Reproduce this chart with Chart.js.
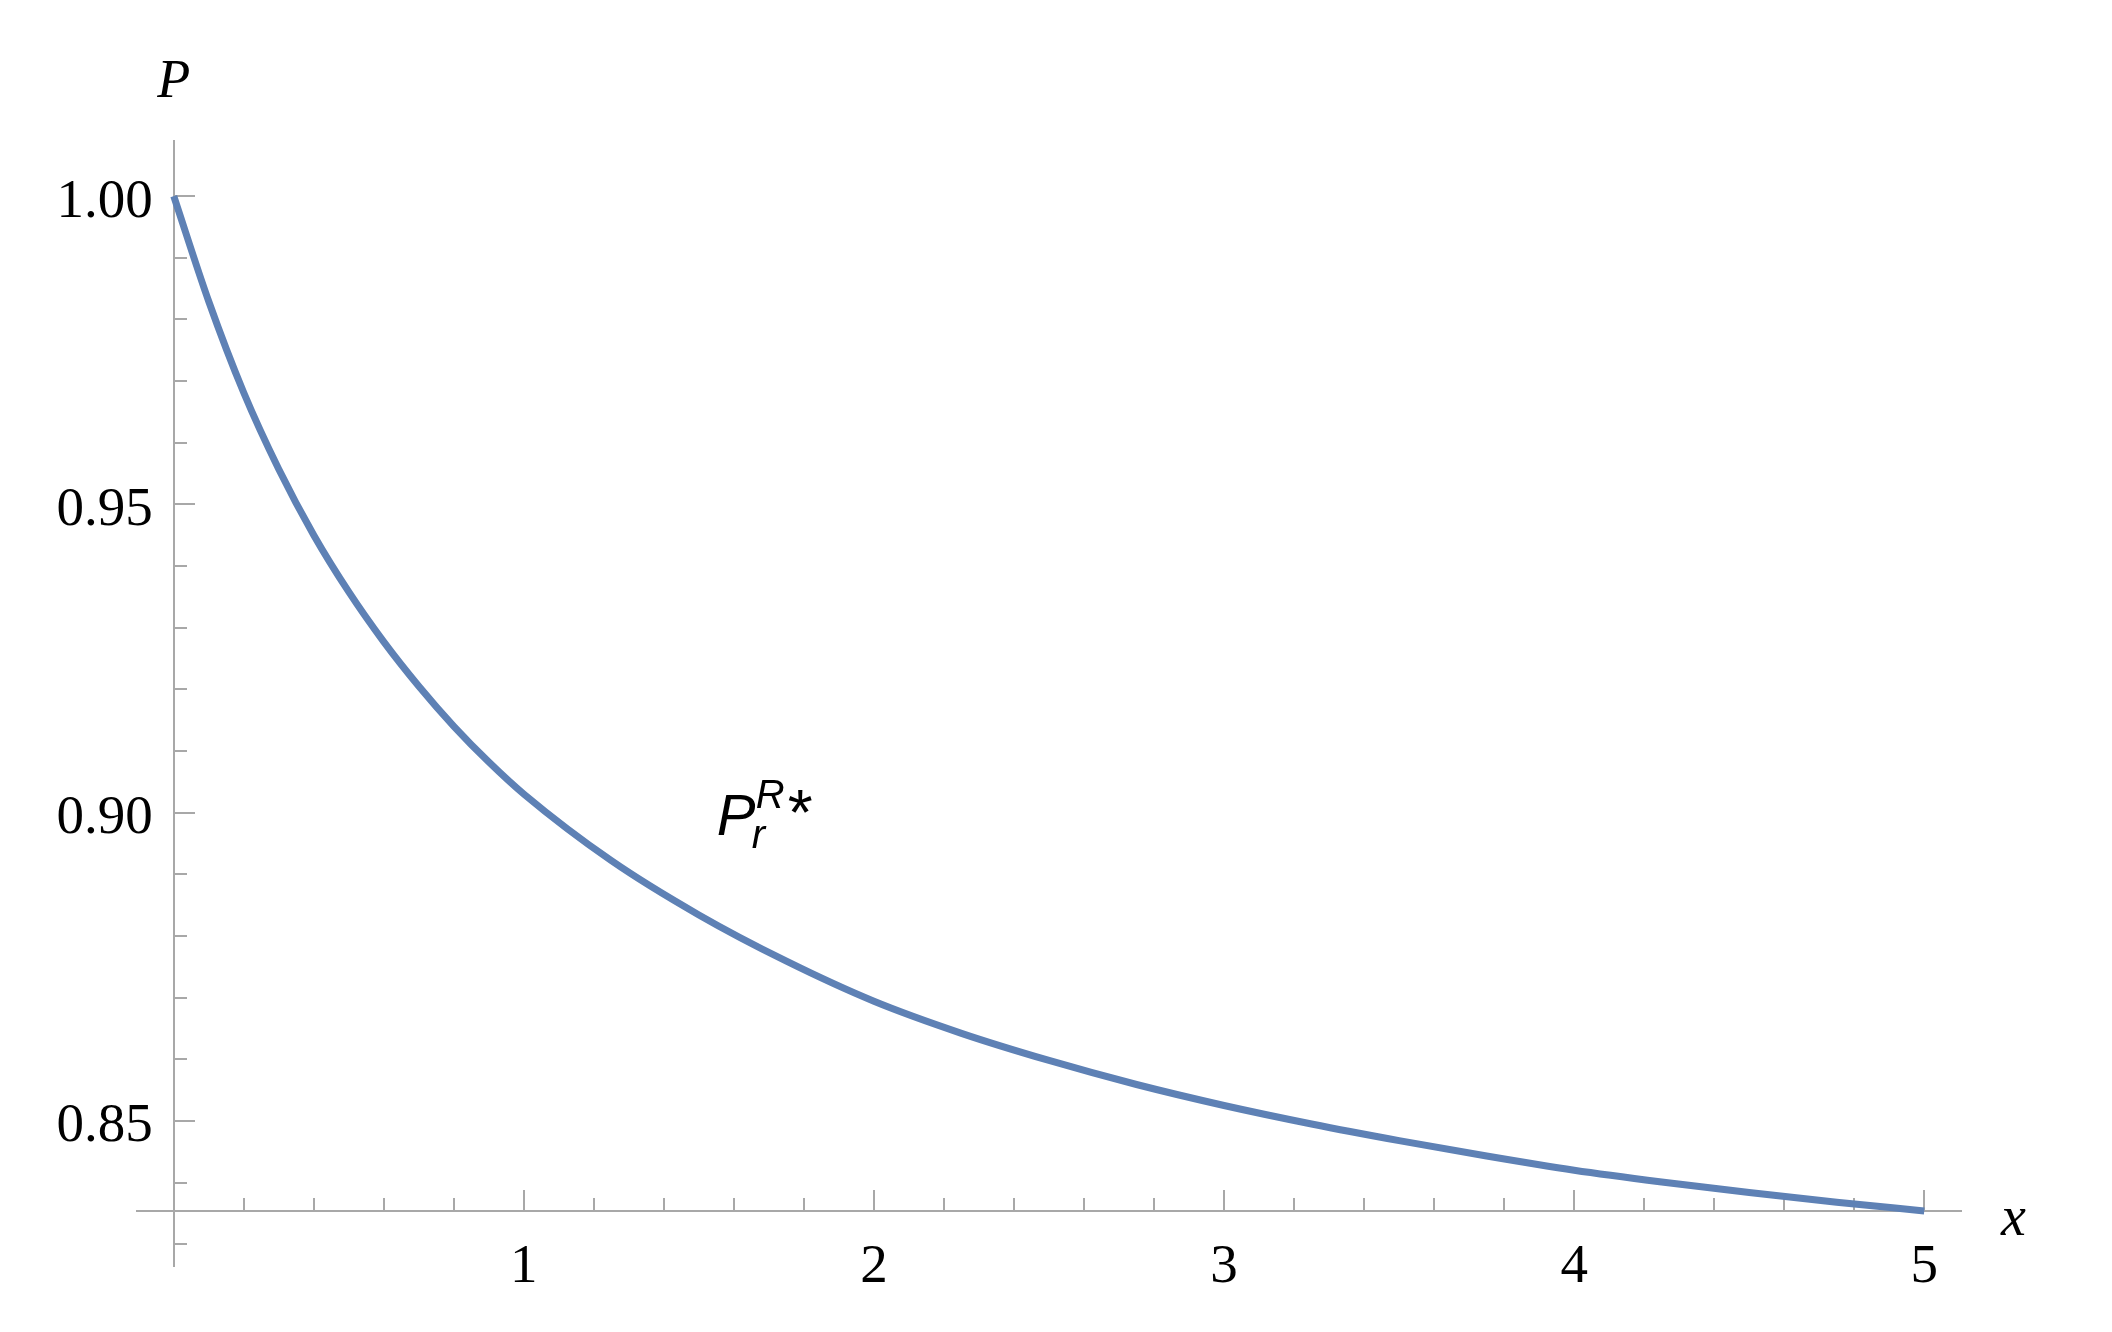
<!DOCTYPE html>
<html>
<head>
<meta charset="utf-8">
<title>P against x</title>
<script src="https://cdn.jsdelivr.net/npm/chart.js@4.4.1/dist/chart.umd.min.js"></script>
<style>
  html, body { margin: 0; padding: 0; background: #ffffff; }
  #wrap { width: 2112px; height: 1332px; }
</style>
</head>
<body>
<div id="wrap"><canvas id="chart" width="2112" height="1332"></canvas></div>
<script>
// values
const xValues = [0, 0.1, 0.2, 0.3, 0.4, 0.5, 0.6, 0.7, 0.8, 0.9, 1.0,
                 1.25, 1.5, 1.75, 2.0, 2.25, 2.5, 2.75, 3.0,
                 3.25, 3.5, 3.75, 4.0, 4.25, 4.5, 4.75, 5.0];
const pValues = [1.0000, 0.9829, 0.9681, 0.9557, 0.9450, 0.9358, 0.9277, 0.9205, 0.9140, 0.9082, 0.9030,
                 0.8922, 0.8834, 0.8759, 0.8694, 0.8642, 0.8598, 0.8559, 0.8525,
                 0.8495, 0.8468, 0.8443, 0.8420, 0.8401, 0.8384, 0.8368, 0.8354];

const xTickValues = [1, 2, 3, 4, 5];
const xMinorValues = [0.2, 0.4, 0.6, 0.8, 1.2, 1.4, 1.6, 1.8, 2.2, 2.4, 2.6, 2.8,
                      3.2, 3.4, 3.6, 3.8, 4.2, 4.4, 4.6, 4.8];
const yTickValues = [0.85, 0.90, 0.95, 1.00];
const yMinorValues = [0.83, 0.84, 0.86, 0.87, 0.88, 0.89, 0.91, 0.92, 0.93, 0.94,
                      0.96, 0.97, 0.98, 0.99];

const xRange = [-0.105, 5.105];
const yRange = [0.8263, 1.0091];
const axisCross = 0.8354;     // the horizontal axis sits at the curve's lowest value
const yLabelAnchor = -0.06;   // y tick labels end a little left of the axis

const axisColor = '#a8a8a8';
const curveColor = '#5e81b5';
const serif = '"Liberation Serif", "Times New Roman", serif';
const sans = '"Liberation Sans", Arial, sans-serif';

// vertical axis line, inward tick marks, minor ticks, axis names and the curve label
const mathAxes = {
  id: 'mathAxes',
  beforeDatasetsDraw(chart) {
    const { ctx, chartArea, scales: { x, y } } = chart;
    const x0 = Math.round(x.getPixelForValue(0));
    const y0 = Math.round(y.getPixelForValue(axisCross));
    ctx.save();
    ctx.strokeStyle = axisColor;
    ctx.lineWidth = 2;
    ctx.beginPath();
    ctx.moveTo(x0, chartArea.top); ctx.lineTo(x0, chartArea.bottom);
    xTickValues.forEach(v => {
      const px = Math.round(x.getPixelForValue(v));
      ctx.moveTo(px, y0); ctx.lineTo(px, y0 - 21);
    });
    xMinorValues.forEach(v => {
      const px = Math.round(x.getPixelForValue(v));
      ctx.moveTo(px, y0); ctx.lineTo(px, y0 - 13);
    });
    yTickValues.forEach(v => {
      const py = Math.round(y.getPixelForValue(v));
      ctx.moveTo(x0, py); ctx.lineTo(x0 + 21, py);
    });
    yMinorValues.forEach(v => {
      const py = Math.round(y.getPixelForValue(v));
      ctx.moveTo(x0, py); ctx.lineTo(x0 + 13, py);
    });
    ctx.stroke();
    ctx.restore();
  },
  afterDraw(chart) {
    const { ctx, chartArea, scales: { x, y } } = chart;
    const x0 = x.getPixelForValue(0);
    const y0 = y.getPixelForValue(axisCross);
    ctx.save();
    ctx.fillStyle = '#000000';
    ctx.textBaseline = 'alphabetic';

    ctx.font = 'italic 54px ' + serif;
    ctx.textAlign = 'center';
    ctx.fillText('P', x0, chartArea.top - 43);
    ctx.textAlign = 'left';
    ctx.font = 'italic 56px ' + serif;
    ctx.fillText('x', chartArea.right + 40, y0 + 24);

    // P_r^{R*}
    const lx = x.getPixelForValue(1.551);
    const ly = y.getPixelForValue(0.8964);
    ctx.font = 'italic 58px ' + sans;
    ctx.fillText('P', lx, ly);
    ctx.font = 'italic 40px ' + sans;
    ctx.fillText('R', lx + 39, ly - 27);
    ctx.fillText('r', lx + 35, ly + 13);
    ctx.font = '64px ' + sans;
    ctx.fillText('*', lx + 71, ly);
    ctx.restore();
  }
};

const ctx = document.getElementById('chart').getContext('2d');
const chart = new Chart(ctx, {
  type: 'line',
  data: {
    datasets: [{
      data: xValues.map((v, i) => ({ x: v, y: pValues[i] })),
      borderColor: curveColor,
      borderWidth: 7,
      pointRadius: 0,
      fill: false,
      cubicInterpolationMode: 'monotone'
    }]
  },
  options: {
    responsive: false,
    animation: false,
    devicePixelRatio: 1,
    layout: { padding: { left: 137, right: 151, top: 140, bottom: 65 } },
    plugins: { legend: { display: false }, tooltip: { enabled: false } },
    scales: {
      x: {
        type: 'linear',
        position: { y: axisCross },
        min: xRange[0],
        max: xRange[1],
        afterBuildTicks: scale => { scale.ticks = xTickValues.map(v => ({ value: v })); },
        grid: { display: false, drawTicks: false },
        border: { display: true, color: axisColor, width: 2 },
        ticks: {
          padding: 24,
          color: '#000000',
          font: { family: serif, size: 55 },
          maxRotation: 0,
          callback: v => String(v)
        }
      },
      y: {
        type: 'linear',
        position: { x: yLabelAnchor },
        min: yRange[0],
        max: yRange[1],
        afterBuildTicks: scale => { scale.ticks = yTickValues.map(v => ({ value: v })); },
        grid: { display: false, drawTicks: false },
        border: { display: false },
        ticks: {
          padding: 0,
          labelOffset: 6,
          color: '#000000',
          font: { family: serif, size: 55 },
          callback: v => v.toFixed(2)
        }
      }
    }
  },
  plugins: [mathAxes]
});
</script>
</body>
</html>
